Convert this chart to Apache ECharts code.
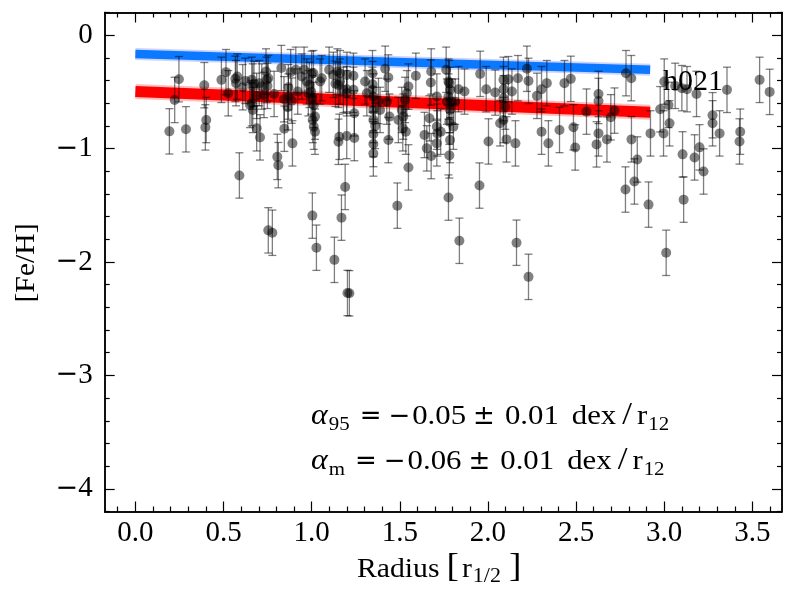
<!DOCTYPE html>
<html>
<head>
<meta charset="utf-8">
<script src="https://cdn.jsdelivr.net/npm/echarts@6/dist/echarts.min.js"></script>
<style>html,body{margin:0;padding:0;background:#fff;}#c{width:800px;height:600px;}</style>
</head>
<body>
<div id="c"></div>
<script>
// Star radii [r_1/2]
const radius = [
0.193,0.223,0.247,0.287,0.391,0.397,0.402,0.488,0.514,0.527,
0.567,0.571,0.578,0.590,0.609,0.624,0.650,0.660,0.660,0.666,
0.666,0.673,0.688,0.688,0.703,0.707,0.717,0.730,0.741,0.745,
0.749,0.754,0.754,0.777,0.787,0.805,0.811,0.828,0.843,0.845,
0.864,0.868,0.868,0.881,0.887,0.891,0.910,0.921,0.944,0.957,
0.972,0.981,0.987,0.997,1.000,1.004,1.004,1.006,1.010,1.012,
1.012,1.019,1.019,1.027,1.048,1.057,1.099,1.123,1.129,1.135,
1.146,1.152,1.152,1.157,1.161,1.161,1.169,1.180,1.200,1.190,
1.199,1.199,1.199,1.203,1.214,1.237,1.237,1.242,1.242,1.303,
1.313,1.345,1.345,1.345,1.350,1.379,1.350,1.388,1.350,1.360,
1.350,1.350,1.350,1.417,1.435,1.426,1.441,1.435,1.486,1.492,
1.511,1.517,1.520,1.530,1.534,1.540,1.549,1.549,1.591,1.640,
1.653,1.668,1.676,1.678,1.678,1.710,1.710,1.710,1.713,1.732,
1.763,1.767,1.776,1.776,1.776,1.781,1.781,1.781,1.785,1.785,
1.785,1.795,1.804,1.814,1.833,1.838,1.867,1.952,1.956,1.990,
2.003,2.041,2.069,2.088,2.088,2.088,2.088,2.098,2.105,2.116,
2.136,2.156,2.162,2.170,2.221,2.230,2.230,2.278,2.304,2.304,
2.334,2.343,2.406,2.434,2.470,2.485,2.495,2.559,2.616,2.627,
2.627,2.627,2.675,2.697,2.718,2.780,2.783,2.813,2.814,2.831,
2.847,2.911,2.922,2.977,2.996,3.000,3.011,3.024,3.030,3.062,
3.100,3.104,3.110,3.129,3.172,3.183,3.200,3.223,3.274,3.274,
3.314,3.356,3.427,3.431,3.541,3.598
];
// [Fe/H] values
const feh = [
-0.848,-0.571,-0.388,-0.830,-0.441,-0.813,-0.748,-0.394,-0.326,-0.512,
-0.385,-0.423,-0.365,-1.237,-0.459,-0.403,-0.615,-0.394,-0.600,-0.453,
-0.659,-0.429,-0.535,-0.821,-0.423,-0.901,-0.453,-0.527,-0.320,-0.394,
-0.447,-0.379,-1.721,-1.742,-0.518,-1.073,-1.146,-0.290,-0.565,-0.825,
-0.636,-0.459,-0.541,-0.326,-0.577,-0.954,-0.305,-0.497,-0.365,-0.305,
-0.409,-0.512,-0.438,-0.497,-0.341,-0.556,-1.591,-0.748,-0.335,-0.615,
-0.807,-0.718,-0.851,-1.874,-0.409,-0.379,-0.305,-0.350,-1.981,-0.429,
-0.320,-0.438,-0.940,-0.896,-0.409,-0.335,-1.609,-0.482,-0.350,-1.338,
-0.476,-0.512,-0.889,-2.273,-2.276,-0.358,-0.482,-0.689,-0.907,-0.409,
-0.512,-0.335,-0.432,-0.482,-0.541,-0.580,-0.659,-0.659,-0.748,-0.800,
-0.872,-0.960,-1.043,-0.296,-0.373,-0.586,-0.718,-0.925,-1.503,-0.748,
-0.659,-0.821,-0.718,-0.571,-0.851,-0.512,-0.453,-1.166,-0.358,-0.880,
-0.998,-0.733,-0.418,-0.320,-1.066,-0.541,-0.807,-0.954,-0.866,-0.851,
-0.305,-0.586,-0.409,-0.541,-1.432,-0.423,-0.763,-1.060,-0.482,-0.659,
-0.925,-0.586,-0.807,-0.586,-0.476,-1.813,-0.497,-1.326,-0.341,-0.476,
-0.937,-0.506,-0.777,-0.394,-0.476,-0.556,-0.748,-0.630,-0.919,-0.388,
-0.497,-0.954,-1.830,-0.379,-0.296,-0.403,-2.131,-0.535,-0.476,-0.851,
-0.423,-0.954,-0.836,-0.423,-0.385,-0.812,-0.990,-0.674,-0.963,-0.518,
-0.580,-0.866,-0.919,-0.724,-0.665,-1.361,-0.335,-0.379,-0.919,-1.290,
-1.096,-1.494,-0.866,-0.653,-0.866,-0.409,-1.919,-0.615,-0.777,-0.447,
-0.467,-1.051,-1.450,-0.476,-1.078,-0.518,-0.989,-1.202,-0.706,-0.777,
-0.866,-0.482,-0.937,-0.851,-0.394,-0.500
];
// [Fe/H] uncertainties (half length of error bars)
const fehErr = [
0.2,0.2,0.2,0.2,0.2,0.2,0.2,0.2,0.2,0.2,
0.2,0.2,0.2,0.2,0.2,0.2,0.2,0.2,0.2,0.2,
0.2,0.2,0.2,0.2,0.2,0.2,0.2,0.2,0.2,0.2,
0.2,0.2,0.2,0.2,0.2,0.2,0.2,0.2,0.2,0.2,
0.2,0.2,0.2,0.2,0.2,0.2,0.2,0.2,0.2,0.2,
0.2,0.2,0.2,0.2,0.2,0.2,0.2,0.2,0.2,0.2,
0.2,0.2,0.2,0.2,0.2,0.2,0.2,0.2,0.2,0.2,
0.2,0.2,0.2,0.2,0.2,0.2,0.2,0.2,0.2,0.2,
0.2,0.2,0.2,0.2,0.2,0.2,0.2,0.2,0.2,0.2,
0.2,0.2,0.2,0.2,0.2,0.2,0.2,0.2,0.2,0.2,
0.2,0.2,0.2,0.2,0.2,0.2,0.2,0.2,0.2,0.2,
0.2,0.2,0.2,0.2,0.2,0.2,0.2,0.2,0.2,0.2,
0.2,0.2,0.2,0.2,0.2,0.2,0.2,0.2,0.2,0.2,
0.2,0.2,0.2,0.2,0.2,0.2,0.2,0.2,0.2,0.2,
0.2,0.2,0.2,0.2,0.2,0.2,0.2,0.2,0.2,0.2,
0.2,0.2,0.2,0.2,0.2,0.2,0.2,0.2,0.2,0.2,
0.2,0.2,0.2,0.2,0.2,0.2,0.2,0.2,0.2,0.2,
0.2,0.2,0.2,0.2,0.2,0.2,0.2,0.2,0.2,0.2,
0.2,0.2,0.2,0.2,0.2,0.2,0.2,0.2,0.2,0.2,
0.2,0.2,0.2,0.2,0.2,0.2,0.2,0.2,0.2,0.2,
0.2,0.2,0.2,0.2,0.2,0.2,0.2,0.2,0.2,0.2,
0.2,0.2,0.2,0.2,0.2,0.2
];
// Gradient fits
const fitRadius = [0.0, 2.92];
const fit95 = [-0.166, -0.305];
const fitM = [-0.497, -0.680];

// Axis ticks
const xMajor = [0, 0.5, 1.0, 1.5, 2.0, 2.5, 3.0, 3.5];
const xMajorLabels = ['0.0','0.5','1.0','1.5','2.0','2.5','3.0','3.5'];
const xMinor = [-0.1,0.1,0.2,0.3,0.4,0.6,0.7,0.8,0.9,1.1,1.2,1.3,1.4,1.6,1.7,1.8,1.9,2.1,2.2,2.3,2.4,2.6,2.7,2.8,2.9,3.1,3.2,3.3,3.4,3.6];
const yMajor = [0, -1, -2, -3, -4];
const yMajorLabels = ['{d|0}','{m|\u2212}{d|1}','{m|\u2212}{d|2}','{m|\u2212}{d|3}','{m|\u2212}{d|4}'];
const yMinor = [0.2,-0.2,-0.4,-0.6,-0.8,-1.2,-1.4,-1.6,-1.8,-2.2,-2.4,-2.6,-2.8,-3.2,-3.4,-3.6,-3.8,-4.2];

const XMIN = -0.174, XMAX = 3.668, YMIN = -4.2, YMAX = 0.2;
const FONT = 'Liberation Serif';
const SYM = 'DejaVu Sans';
const TS = 1.1; // horizontal stretch of text pieces

function lbl(list, labels) {
  return function (v) {
    for (let i = 0; i < list.length; i++) if (Math.abs(list[i] - v) < 1e-6) return labels[i];
    return '';
  };
}

function xAx(pos, ticks, len, showLabel) {
  return {
    type: 'value', position: pos, min: XMIN, max: XMAX, gridIndex: 0,
    axisLine: { show: true, onZero: false, lineStyle: { color: '#000', width: 1.5 } },
    axisTick: { show: true, inside: true, length: len, customValues: ticks, lineStyle: { color: '#000', width: 1.2 } },
    axisLabel: showLabel ? { show: true, customValues: ticks, formatter: lbl(xMajor, xMajorLabels), fontFamily: FONT, fontSize: 29, color: '#000', margin: 7 } : { show: false },
    splitLine: { show: false }
  };
}
function yAx(pos, ticks, len, showLabel) {
  return {
    type: 'value', position: pos, min: YMIN, max: YMAX, gridIndex: 0,
    axisLine: { show: true, onZero: false, lineStyle: { color: '#000', width: 1.5 } },
    axisTick: { show: true, inside: true, length: len, customValues: ticks, lineStyle: { color: '#000', width: 1.2 } },
    axisLabel: showLabel ? {
      show: true, customValues: ticks, formatter: lbl(yMajor, yMajorLabels), color: '#000', margin: 12,
      rich: { d: { fontFamily: FONT, fontSize: 29, color: '#000' }, m: { fontFamily: SYM, fontSize: 27, color: '#000' } }
    } : { show: false },
    splitLine: { show: false }
  };
}

const stars = radius.map((x, i) => [x, feh[i], fehErr[i]]);

// lay out text pieces contiguously (measured), returns graphic elements
const mctx = document.createElement('canvas').getContext('2d');
function layout(tokens, x0, base) {
  const els = [];
  let x = x0;
  tokens.forEach(function (tk) {
    x += tk.gap || 0;
    const fam = tk.fam || FONT;
    const sx = tk.sx || TS;
    mctx.font = (tk.it ? 'italic ' : '') + tk.size + 'px "' + fam + '"';
    const w = mctx.measureText(tk.t).width * sx;
    els.push({
      type: 'text', x: x, y: base + (tk.dy || 0) - 0.34 * tk.size, scaleX: sx, z: 10,
      style: { text: tk.t, fontFamily: fam, fontSize: tk.size, fontStyle: tk.it ? 'italic' : 'normal', fill: '#000', align: 'left', verticalAlign: 'middle' }
    });
    x += w;
  });
  return els;
}
function annot(base, subTxt, val) {
  return layout([
    { t: '\u03b1', size: 29, it: true },
    { t: subTxt, size: 19, dy: 5, gap: 1 },
    { t: '=', size: 26, fam: SYM, sx: 1, gap: 10 },
    { t: '\u2212', size: 26, fam: SYM, sx: 1, gap: 7 },
    { t: val, size: 28, gap: 2 },
    { t: '\u00b1', size: 26, fam: SYM, sx: 1, gap: 7 },
    { t: '0.01', size: 28, gap: 10 },
    { t: 'dex', size: 28, gap: 13 },
    { t: '/', size: 32, gap: 6 },
    { t: 'r', size: 28, gap: 5 },
    { t: '12', size: 19, dy: 5, gap: 1 }
  ], 311, base);
}

const chart = echarts.init(document.getElementById('c'), null, { renderer: 'canvas' });

chart.setOption({
  animation: false,
  backgroundColor: '#fff',
  grid: { left: 104.7, right: 18, top: 12.5, bottom: 88.5, containLabel: false },
  xAxis: [xAx('bottom', xMajor, 10, true), xAx('bottom', xMinor, 5, false), xAx('top', xMajor, 10, false), xAx('top', xMinor, 5, false)],
  yAxis: [yAx('left', yMajor, 10, true), yAx('left', yMinor, 5, false), yAx('right', yMajor, 10, false), yAx('right', yMinor, 5, false)],
  series: [
    {
      type: 'line', xAxisIndex: 0, yAxisIndex: 0, z: 1,
      data: fitRadius.map((x, i) => [x, fitM[i]]),
      symbol: 'none', lineStyle: { color: 'rgba(255,40,40,0.3)', width: 15, cap: 'butt' }
    },
    {
      type: 'line', xAxisIndex: 0, yAxisIndex: 0, z: 1,
      data: fitRadius.map((x, i) => [x, fitM[i]]),
      symbol: 'none', lineStyle: { color: '#ff0000', width: 11, cap: 'butt' }
    },
    {
      type: 'line', xAxisIndex: 0, yAxisIndex: 0, z: 1,
      data: fitRadius.map((x, i) => [x, fit95[i]]),
      symbol: 'none', lineStyle: { color: 'rgba(90,110,255,0.3)', width: 12, cap: 'butt' }
    },
    {
      type: 'line', xAxisIndex: 0, yAxisIndex: 0, z: 1,
      data: fitRadius.map((x, i) => [x, fit95[i]]),
      symbol: 'none', lineStyle: { color: '#0a78ff', width: 8.5, cap: 'butt' }
    },
    {
      type: 'custom', xAxisIndex: 0, yAxisIndex: 0, z: 2,
      data: stars,
      renderItem: function (params, api) {
        const x = api.value(0), y = api.value(1), e = api.value(2);
        const t = api.coord([x, y + e]);
        const b = api.coord([x, y - e]);
        const c = 4;
        const st = { stroke: 'rgba(0,0,0,0.5)', lineWidth: 1.3 };
        return {
          type: 'group',
          children: [
            { type: 'line', shape: { x1: t[0], y1: t[1], x2: b[0], y2: b[1] }, style: st },
            { type: 'line', shape: { x1: t[0] - c, y1: t[1], x2: t[0] + c, y2: t[1] }, style: st },
            { type: 'line', shape: { x1: b[0] - c, y1: b[1], x2: b[0] + c, y2: b[1] }, style: st }
          ]
        };
      }
    },
    {
      type: 'scatter', xAxisIndex: 0, yAxisIndex: 0, z: 3,
      data: stars.map(s => [s[0], s[1]]),
      symbol: 'circle', symbolSize: 10,
      itemStyle: { color: 'rgba(0,0,0,0.62)' }
    }
  ],
  graphic: [].concat(
    layout([{ t: 'h021', size: 30, sx: 1 }], 663, 92),
    annot(426, '95', '0.05'),
    annot(471, 'm', '0.06'),
    layout([
      { t: 'Radius', size: 27 },
      { t: '[', size: 34, gap: 7 },
      { t: 'r', size: 27, gap: 3 },
      { t: '1/2', size: 20, dy: 5, gap: 1 },
      { t: ']', size: 34, gap: 8 }
    ], 357, 579),
    [{ type: 'text', x: 27, y: 263, rotation: Math.PI / 2, scaleX: TS, z: 10, style: { text: '[Fe/H]', fontFamily: FONT, fontSize: 27, fill: '#000', align: 'center', verticalAlign: 'middle' } }]
  )
});
</script>
</body>
</html>
